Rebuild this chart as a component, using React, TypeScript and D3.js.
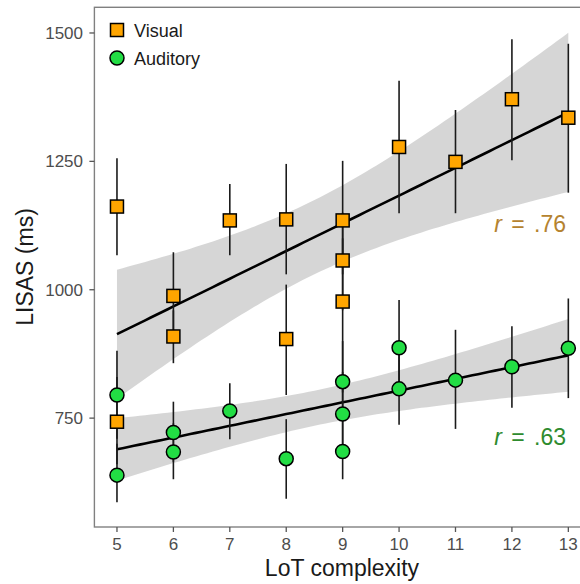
import * as d3 from "d3";

// LoT complexity of each item and the mean LISAS, with its error bar
const visualX = [5, 5, 6, 6, 7, 8, 8, 9, 9, 9, 10, 11, 12, 13];
const visualY = [1162, 743, 988, 909, 1135, 1137, 904, 1135, 1057, 977, 1278, 1249, 1371, 1335];
const visualLo = [1067, 660, 905, 857, 1067, 1030, 795, 1030, 960, 800, 1149, 1149, 1252, 1189];
const visualHi = [1256, 830, 1073, 960, 1206, 1245, 1010, 1251, 1150, 1100, 1407, 1350, 1488, 1479];

const auditoryX = [5, 5, 6, 6, 7, 8, 9, 9, 9, 10, 10, 11, 12, 13];
const auditoryY = [795, 639, 722, 684, 764, 671, 821, 758, 685, 887, 807, 824, 850, 886];
const auditoryLo = [710, 586, 665, 631, 709, 593, 740, 680, 631, 800, 737, 729, 770, 789];
const auditoryHi = [881, 700, 782, 740, 818, 748, 900, 840, 740, 980, 880, 922, 929, 983];

const xTicks = [5, 6, 7, 8, 9, 10, 11, 12, 13];
const yTicks = [750, 1000, 1250, 1500];
const rLabels = [".76", ".63"];

const W = 580;
const H = 584;
const T975 = 2.179; // t quantile, df = 12

const x = d3.scaleLinear().domain([4.6, 13.4]).range([94.4, 590.9]);
const y = d3.scaleLinear().domain([538, 1550]).range([527, 7.3]);

function fit(xs: number[], ys: number[]) {
  const n = xs.length;
  const mx = d3.mean(xs)!;
  const my = d3.mean(ys)!;
  const sxx = d3.sum(xs, (v) => (v - mx) ** 2);
  const sxy = d3.sum(xs, (v, i) => (v - mx) * (ys[i] - my));
  const b = sxy / sxx;
  const a = my - b * mx;
  const sse = d3.sum(xs, (v, i) => (ys[i] - a - b * v) ** 2);
  const s = Math.sqrt(sse / (n - 2));
  const grid = d3.range(0, 81).map((i) => 5 + (8 * i) / 80);
  return grid.map((g) => {
    const yhat = a + b * g;
    const se = s * Math.sqrt(1 / n + (g - mx) ** 2 / sxx);
    return { x: g, y: yhat, lo: yhat - T975 * se, hi: yhat + T975 * se };
  });
}

const band = d3
  .area<{ x: number; lo: number; hi: number }>()
  .x((d) => x(d.x))
  .y0((d) => y(d.lo))
  .y1((d) => y(d.hi));
const line = d3
  .line<{ x: number; y: number }>()
  .x((d) => x(d.x))
  .y((d) => y(d.y));

const font = "'Liberation Sans', Arial, sans-serif";

function Smooth({ xs, ys }: any) {
  const f = fit(xs, ys);
  return (
    <g>
      <path d={band(f)!} fill="#999999" fillOpacity={0.4} />
      <path d={line(f)!} fill="none" stroke="#000" strokeWidth={2.6} />
    </g>
  );
}

function Bars({ xs, lo, hi }: any) {
  return (
    <g stroke="#1a1a1a" strokeWidth={1.6}>
      {xs.map((v: number, i: number) => (
        <line key={i} x1={x(v)} x2={x(v)} y1={y(lo[i])} y2={y(hi[i])} />
      ))}
    </g>
  );
}

export default function App() {
  return (
    <svg
      width={W}
      height={H}
      style={{ position: "fixed", left: 0, top: 0, background: "#fff" }}
      fontFamily={font}
    >
      <Smooth xs={visualX} ys={visualY} />
      <Smooth xs={auditoryX} ys={auditoryY} />
      <Bars xs={visualX} lo={visualLo} hi={visualHi} />
      <Bars xs={auditoryX} lo={auditoryLo} hi={auditoryHi} />
      <g stroke="#000" strokeWidth={1.5} fill="#FFA500">
        {visualX.map((v, i) => (
          <rect key={i} x={x(v) - 6.5} y={y(visualY[i]) - 6.5} width={13} height={13} />
        ))}
      </g>
      <g stroke="#000" strokeWidth={1.5} fill="#22DD44">
        {auditoryX.map((v, i) => (
          <circle key={i} cx={x(v)} cy={y(auditoryY[i])} r={7} />
        ))}
      </g>

      {/* panel border */}
      <rect x={94.4} y={7.3} width={x.range()[1] - 94.4} height={527 - 7.3} fill="none" stroke="#808080" strokeWidth={1.4} />

      {/* x axis */}
      {xTicks.map((t) => (
        <g key={t}>
          <line x1={x(t)} x2={x(t)} y1={527} y2={532} stroke="#555" strokeWidth={1.3} />
          <text x={x(t)} y={550} textAnchor="middle" fontSize={17} fill="#4d4d4d">
            {t}
          </text>
        </g>
      ))}
      <text x={342} y={576} textAnchor="middle" fontSize={23} fill="#1a1a1a">
        LoT complexity
      </text>

      {/* y axis */}
      {yTicks.map((t) => (
        <g key={t}>
          <line x1={89.4} x2={94.4} y1={y(t)} y2={y(t)} stroke="#555" strokeWidth={1.3} />
          <text x={83} y={y(t)} dy="0.35em" textAnchor="end" fontSize={17} fill="#4d4d4d">
            {t}
          </text>
        </g>
      ))}
      <text transform="translate(33,267) rotate(-90)" textAnchor="middle" fontSize={23} fill="#1a1a1a">
        LISAS (ms)
      </text>

      {/* legend */}
      <rect x={110.5} y={23.5} width={13} height={13} fill="#FFA500" stroke="#000" strokeWidth={1.5} />
      <text x={134} y={36.5} fontSize={18} fill="#1a1a1a">Visual</text>
      <circle cx={117} cy={58} r={7} fill="#22DD44" stroke="#000" strokeWidth={1.5} />
      <text x={134} y={64.5} fontSize={18} fill="#1a1a1a">Auditory</text>

      {/* correlation labels */}
      <text x={566} y={232} textAnchor="end" fontSize={23} fill="#B5832F" wordSpacing={3}>
        <tspan fontStyle="italic">r</tspan> = {rLabels[0]}
      </text>
      <text x={566} y={445} textAnchor="end" fontSize={23} fill="#2E8B2E" wordSpacing={3}>
        <tspan fontStyle="italic">r</tspan> = {rLabels[1]}
      </text>
    </svg>
  );
}
